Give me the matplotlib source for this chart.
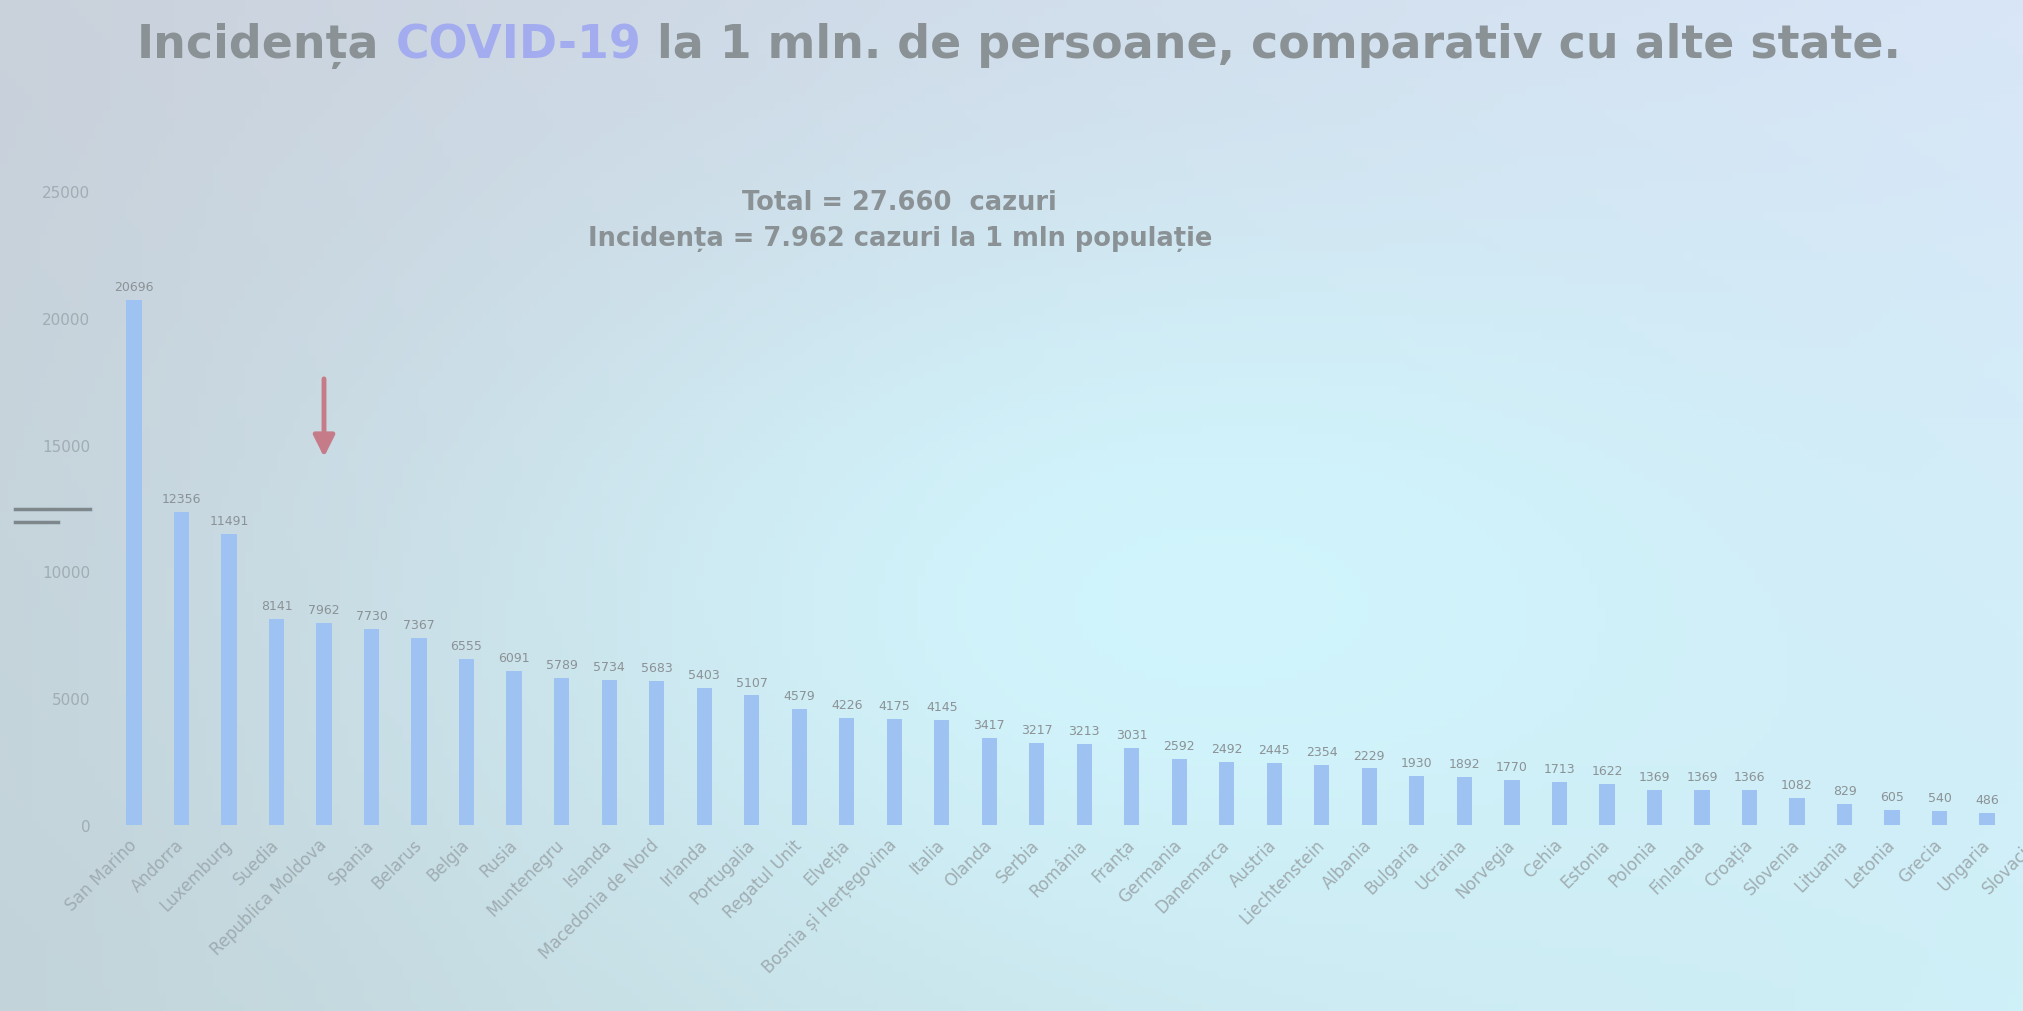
import matplotlib.pyplot as plt
import numpy as np
from matplotlib.lines import Line2D

countries = ["San Marino", "Andorra", "Luxemburg", "Suedia", "Republica Moldova",
             "Spania", "Belarus", "Belgia", "Rusia", "Muntenegru", "Islanda",
             "Macedonia de Nord", "Irlanda", "Portugalia", "Regatul Unit", "Elveția",
             "Bosnia și Herțegovina", "Italia", "Olanda", "Serbia", "România", "Franța",
             "Germania", "Danemarca", "Austria", "Liechtenstein", "Albania", "Bulgaria",
             "Ucraina", "Norvegia", "Cehia", "Estonia", "Polonia", "Finlanda", "Croația",
             "Slovenia", "Lituania", "Letonia", "Grecia", "Ungaria", "Slovacia"]

incidence = [20696, 12356, 11491, 8141, 7962, 7730, 7367, 6555, 6091, 5789, 5734,
             5683, 5403, 5107, 4579, 4226, 4175, 4145, 3417, 3217, 3213, 3031,
             2592, 2492, 2445, 2354, 2229, 1930, 1892, 1770, 1713, 1622, 1369,
             1369, 1366, 1082, 829, 605, 540, 486, 420]

y_ticks = [0, 5000, 10000, 15000, 20000, 25000]

title_parts = ["Incidența", "COVID-19", "la 1 mln. de persoane, comparativ cu alte state."]
subtitle = ["Total = 27.660  cazuri", "Incidența = 7.962 cazuri la 1 mln populație"]
highlight = "Republica Moldova"

grey = '#8b9296'
light_grey = '#a0adb2'

fig = plt.figure(figsize=(20.24, 10.12), dpi=100)

# projector-like background: soft gradient grey-blue -> cyan
bg = fig.add_axes([0, 0, 1, 1], zorder=-10)
gx, gy = np.meshgrid(np.linspace(0, 1, 256), np.linspace(0, 1, 128))
tl = np.array([0.79, 0.82, 0.86])
tr = np.array([0.85, 0.90, 0.97])
bl = np.array([0.76, 0.83, 0.85])
br = np.array([0.81, 0.94, 0.97])
mid = np.array([0.82, 0.96, 0.99])
img = (tl * ((1 - gx) * (1 - gy))[..., None] + tr * (gx * (1 - gy))[..., None]
       + bl * ((1 - gx) * gy)[..., None] + br * (gx * gy)[..., None])
w = np.exp(-((gx - 0.6) ** 2 / 0.12 + (gy - 0.6) ** 2 / 0.15))[..., None]
img = img * (1 - w) + mid * w
bg.imshow(img, aspect='auto', extent=[0, 1, 0, 1])
bg.axis('off')

ax = fig.add_axes([0.0474, 0.1838, 0.986, 0.6265])
ax.patch.set_alpha(0)
x = np.arange(len(countries))
ax.bar(x, incidence, width=0.32, color='#9ec3f2')

for i, v in enumerate(incidence):
    ax.annotate(str(v), (i, v), xytext=(0, 5), textcoords='offset points',
                ha='center', va='bottom', fontsize=9, color=grey)

ax.set_xlim(-0.8, 41.2)
ax.set_ylim(0, 25000)
ax.set_yticks(y_ticks)
ax.set_xticks(x)
ax.set_xticklabels(countries, rotation=45, ha='right', va='center',
                   rotation_mode='anchor', fontsize=12, color=light_grey)
ax.tick_params(axis='y', length=0, pad=4, labelsize=11, labelcolor=light_grey)
ax.tick_params(axis='x', length=0, pad=12)
for s in ax.spines.values():
    s.set_visible(False)

# arrow pointing at Moldova
k = countries.index(highlight)
ax.annotate('', xy=(k, 14400), xytext=(k, 17700),
            arrowprops=dict(arrowstyle='-|>', color='#c67c88', lw=3.5,
                            mutation_scale=32))

# title with coloured COVID-19
r = fig.canvas.get_renderer()
title_kw = dict(fontsize=33, fontweight='bold', va='center')
colors = [grey, '#a4acf0', grey]
probe = fig.text(0, 0, 'x x', **title_kw)
probe2 = fig.text(0, 0, 'xx', **title_kw)
gap = probe.get_window_extent(r).width - probe2.get_window_extent(r).width
probe.remove()
probe2.remove()
widths = []
for p in title_parts:
    t = fig.text(0, 0, p, **title_kw)
    widths.append(t.get_window_extent(r).width)
    t.remove()
total = sum(widths) + gap * (len(title_parts) - 1)
xpix = 1019 - total / 2
for p, c, wd in zip(title_parts, colors, widths):
    fig.text(xpix / 2024, 0.955, p, color=c, ha='left', **title_kw)
    xpix += wd + gap

fig.text(0.4446, 0.7997, subtitle[0], ha='center', va='center', fontsize=18.5,
         fontweight='bold', color=grey)
fig.text(0.4446, 0.764, subtitle[1], ha='center', va='center', fontsize=18.5,
         fontweight='bold', color=grey)

# dark marks on the left edge of the photo
fig.add_artist(Line2D([0.0074, 0.0445], [0.496, 0.496], color='#7d878c', lw=2.5))
fig.add_artist(Line2D([0.0074, 0.0287], [0.483, 0.483], color='#7d878c', lw=2.5))

fig.savefig('out.png', dpi=100)
